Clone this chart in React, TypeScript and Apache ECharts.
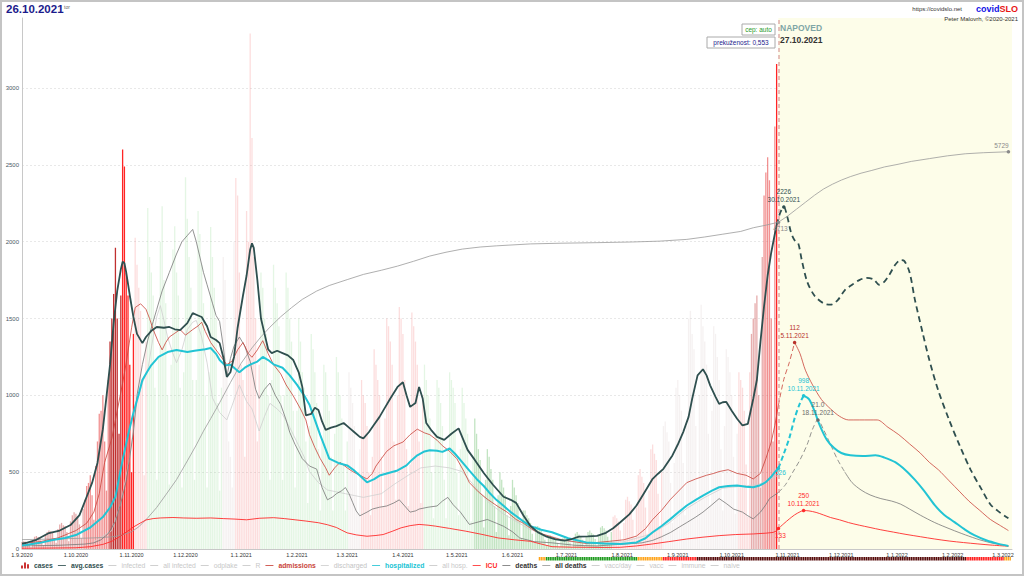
import React, { useEffect, useRef } from "react";
import * as echarts from "echarts";

const FONT = '"Liberation Sans", Arial, sans-serif';
const DAY_MS = 86400000;
const START_UTC = Date.UTC(2020, 8, 1);
const DAY_COUNT = 552;
const dates: string[] = Array.from({ length: DAY_COUNT }, (_, i) => {
  const d = new Date(START_UTC + i * DAY_MS);
  return `${d.getUTCDate()}.${d.getUTCMonth() + 1}.${d.getUTCFullYear()}`;
});
const FORECAST_START = "27.10.2021";
const FORECAST_IDX = dates.indexOf(FORECAST_START);

// axis extents (main axis in cases; others share the same pixel scale with factors)
const Y_MAX = 3456;
const ADM_MAX = 288; // admissions / discharged (x12)
const DEATHS_MAX = 86.4; // deaths (x40)
const ALLD_MAX = 7658; // all deaths

// daily confirmed cases, 1.9.2020 .. 26.10.2021 (weeks Tue..Mon)
const cases = [
  45, 50, 48, 42, 30, 12, 55,
  80, 85, 78, 70, 50, 25, 95,
  110, 120, 115, 105, 70, 40, 130,
  160, 170, 155, 150, 110, 50, 180,
  220, 240, 230, 215, 160, 70, 260,
  320, 410, 430, 480, 350, 190, 540,
  700, 880, 900, 1000, 700, 380, 1100,
  1350, 1500, 1660, 1960, 1500, 750, 1650,
  2600, 2490, 1800, 1650, 1200, 500, 1400,
  2025, 1850, 1700, 1550, 1100, 480, 1350,
  2220, 1900, 1800, 1650, 1050, 450, 1250,
  2000, 2230, 1750, 1600, 1000, 420, 1200,
  1950, 2100, 1800, 1650, 1050, 400, 1150,
  2420, 2150, 1900, 1700, 1100, 450, 1100,
  2200, 2050, 1850, 1600, 1000, 400, 1150,
  2095, 1900, 1700, 1500, 950, 380, 1050,
  1900, 1750, 1200, 700, 600, 400, 2000,
  2415, 2300, 1800, 1200, 1100, 600, 2200,
  2000, 3355, 2675, 1900, 1500, 700, 1200,
  1800, 1700, 1500, 1400, 1000, 450, 1100,
  1850, 1700, 1600, 1450, 1000, 450, 1000,
  1800, 1700, 1500, 1350, 900, 400, 900,
  1500, 1350, 1150, 1050, 700, 300, 800,
  1400, 1300, 1150, 950, 650, 250, 700,
  1200, 1150, 1000, 900, 600, 250, 750,
  1250, 1150, 1000, 850, 550, 250, 700,
  1150, 1050, 950, 800, 500, 230, 650,
  1100, 1000, 950, 800, 500, 220, 600,
  1300, 1200, 1100, 1000, 600, 280, 850,
  1500, 1450, 1350, 1200, 700, 320, 1000,
  1575, 1500, 1400, 1100, 650, 280, 550,
  1540, 1450, 1350, 1200, 700, 300, 1000,
  1200, 1100, 1000, 850, 500, 200, 750,
  1100, 1050, 950, 800, 450, 200, 650,
  1150, 1100, 1050, 950, 500, 220, 650,
  1050, 950, 850, 750, 450, 180, 600,
  850, 750, 650, 580, 350, 140, 450,
  650, 600, 520, 450, 280, 110, 350,
  500, 450, 400, 350, 220, 90, 280,
  450, 400, 350, 300, 180, 70, 250,
  250, 220, 200, 170, 100, 40, 150,
  150, 140, 120, 100, 60, 25, 80,
  90, 75, 70, 60, 40, 15, 55,
  70, 75, 65, 60, 40, 15, 60,
  100, 110, 95, 85, 60, 20, 80,
  110, 120, 105, 95, 65, 25, 90,
  140, 150, 135, 120, 80, 30, 110,
  210, 220, 200, 180, 120, 45, 170,
  320, 340, 310, 290, 190, 70, 270,
  480, 520, 470, 430, 270, 100, 380,
  650, 680, 620, 580, 360, 140, 500,
  800, 830, 760, 700, 430, 170, 560,
  1050, 1100, 1000, 900, 560, 220, 800,
  1500, 1550, 1400, 1300, 800, 300, 1000,
  1590, 1450, 1350, 1200, 750, 280, 900,
  1450, 1400, 1250, 1100, 650, 250, 800,
  1300, 1250, 1150, 1000, 600, 230, 750,
  1150, 1100, 1050, 900, 550, 210, 1150,
  1400, 1500, 1600, 1650, 1000, 400, 1900,
  2300, 2450, 2550, 2400, 1500, 700, 2750,
  3156,
];

// weekly trend tone of the case bars (-2 falling .. 5 sharply rising)
const caseTone = [
  2, 2, 2, 2, 2, 3, 3, 4, 5, 1,
  -1, -1, -1, -1, -1, -1, 0, 1, 1,
  -1, -1, -1, -1, -1, -1, -1, 0,
  1, 1, 1, 1, 1, -1, -1, -1, -1,
  -2, -2, -2, -2, -2, -2, -2, -2, -2, -2, -2,
  1, 1, 1, 1, 0, 0, 0, 0, 0, 0, 1, 2, 3, 5,
];

// [day index, value]
const avgCasesHist = [[0,35],[2,39],[8,60],[15,104],[21,120],[27,156],[32,220],[36,340],[39,430],[42,560],[45,780],[47,990],[49,1200],[51,1470],[53,1680],[55,1820],[56,1870],[57,1860],[58,1800],[60,1650],[62,1510],[64,1400],[67,1340],[69,1380],[72,1420],[75,1445],[79,1440],[82,1445],[85,1430],[88,1425],[92,1470],[95,1535],[98,1520],[100,1510],[103,1450],[105,1380],[108,1360],[110,1340],[112,1250],[114,1120],[116,1150],[118,1250],[120,1440],[123,1650],[125,1780],[127,1950],[128,1990],[129,1960],[131,1750],[133,1500],[135,1400],[137,1300],[139,1275],[142,1290],[145,1275],[148,1260],[151,1230],[154,1150],[156,1055],[158,870],[161,880],[163,920],[165,905],[167,830],[169,775],[172,790],[175,800],[179,820],[182,790],[185,760],[188,730],[190,720],[193,760],[196,810],[199,860],[202,920],[205,980],[209,1055],[212,1085],[214,1000],[216,925],[219,950],[221,1055],[223,980],[225,820],[228,770],[231,730],[235,710],[239,750],[243,785],[246,700],[248,645],[252,580],[257,495],[262,420],[268,340],[272,320],[275,300],[279,220],[283,150],[287,110],[292,80],[297,62],[302,55],[306,65],[310,80],[315,82],[320,85],[325,105],[329,135],[333,174],[338,225],[342,283],[346,360],[351,457],[354,490],[357,522],[362,609],[365,680],[368,761],[371,860],[373,978],[376,1130],[379,1170],[381,1130],[383,1065],[386,990],[388,945],[390,955],[392,957],[395,900],[398,848],[401,804],[404,815],[407,978],[409,1100],[411,1350],[413,1580],[415,1780],[417,1930],[419,2050],[420,2108]];
const avgCasesFcst = [[420,2108],[421,2150],[422,2190],[424,2226],[426,2160],[428,2060],[430,2010],[432,1990],[434,1880],[437,1740],[441,1650],[446,1600],[450,1590],[454,1620],[458,1685],[462,1720],[466,1750],[470,1765],[474,1755],[477,1720],[480,1740],[483,1790],[486,1850],[489,1880],[491,1875],[494,1800],[497,1620],[501,1420],[505,1230],[510,1030],[516,840],[522,670],[528,515],[534,390],[539,290],[544,240],[549,200]];

const hospHist = [[0,25],[2,26],[10,40],[17,58],[24,72],[30,91],[38,140],[45,208],[49,270],[52,340],[56,580],[59,740],[62,885],[65,1010],[67,1100],[70,1160],[72,1197],[76,1250],[81,1282],[86,1295],[92,1282],[96,1290],[99,1295],[102,1300],[105,1308],[108,1270],[110,1230],[113,1195],[116,1200],[119,1170],[121,1150],[124,1180],[127,1200],[131,1220],[134,1250],[137,1230],[140,1202],[145,1180],[149,1130],[153,1070],[157,1000],[160,939],[163,840],[166,741],[169,650],[171,588],[176,560],[181,544],[185,510],[188,478],[192,434],[196,455],[199,478],[204,495],[209,511],[214,544],[217,580],[220,610],[224,635],[227,643],[231,640],[234,632],[238,654],[241,620],[245,566],[249,510],[253,456],[257,410],[260,368],[264,320],[268,281],[272,240],[275,215],[279,180],[283,149],[289,125],[295,109],[304,70],[314,43],[324,35],[333,33],[342,43],[347,70],[351,109],[356,150],[361,196],[366,245],[370,283],[375,320],[379,348],[384,380],[388,402],[393,410],[398,413],[403,405],[407,402],[411,415],[414,435],[417,470],[419,500],[421,526]];
const hospFcstRise = [[421,526],[424,620],[427,720],[430,850],[433,950],[435,998]];
const hospFcstFall = [[435,998],[438,975],[441,900],[444,805],[448,710],[452,657],[456,625],[461,610],[468,605],[475,610],[480,595],[486,565],[492,510],[497,450],[502,380],[508,285],[513,225],[519,175],[525,125],[530,90],[537,55],[543,35],[549,20]];

const admHist = [[0,3],[10,4],[20,6],[30,10],[36,14],[40,20],[43,30],[46,47],[50,60],[53,75],[56,90],[58,101],[61,120],[63,131],[66,133],[69,130],[71,125],[73,119],[76,112],[78,108],[80,112],[82,115],[85,117],[88,119],[91,116],[95,119],[98,121],[100,123],[102,118],[105,112],[108,108],[111,104],[114,100],[117,102],[120,108],[123,112],[126,106],[128,104],[131,108],[134,113],[137,106],[140,100],[144,95],[147,89],[151,83],[155,76],[158,70],[160,62],[163,55],[166,49],[169,44],[171,40],[174,44],[177,47],[181,44],[184,42],[188,40],[192,38],[195,41],[197,45],[200,49],[203,53],[207,56],[212,58],[216,62],[220,65],[224,63],[227,62],[231,59],[234,56],[238,53],[242,49],[246,42],[249,36],[254,31],[259,27],[265,23],[270,20],[275,16],[279,14],[285,10],[290,8],[300,5],[314,3],[325,4],[335,5],[342,7],[347,11],[351,16],[356,21],[361,27],[366,32],[370,36],[375,38],[381,40],[385,41],[388,42],[393,43],[398,41],[403,40],[407,38],[411,41],[414,49],[417,58],[419,67],[421,78]];
const admFcstRise = [[421,78],[424,92],[427,101],[430,112]];
const admFcstFall = [[430,112],[433,106],[436,97],[440,89],[445,81],[450,76],[455,72],[460,70],[466,70],[472,70],[476,70],[482,66],[488,62],[494,57],[500,52],[505,47],[510,43],[516,37],[522,31],[527,26],[533,21],[539,16],[544,13],[549,10]];

const dischHist = [[40,4],[50,10],[55,25],[60,50],[64,80],[67,90],[70,97],[73,115],[75,126],[77,132],[79,124],[81,115],[84,106],[86,101],[89,108],[92,119],[95,123],[97,124],[100,115],[103,101],[106,82],[110,74],[114,70],[117,78],[121,89],[125,80],[128,76],[132,64],[135,72],[138,79],[142,76],[145,73],[149,66],[153,58],[157,50],[160,42],[165,36],[170,32],[175,31],[180,30],[185,29],[190,28],[195,29],[200,30],[207,35],[215,40],[222,44],[230,45],[238,44],[245,42],[252,34],[260,25],[268,19],[275,15],[282,11],[290,8],[305,4],[320,3],[335,4],[350,8],[360,14],[370,22],[380,28],[390,33],[400,34],[410,35],[421,40]];

const icuHist = [[0,5],[15,6],[30,8],[38,15],[45,30],[50,50],[54,78],[58,110],[62,143],[66,170],[69,189],[73,198],[77,202],[84,205],[90,202],[97,200],[105,202],[112,198],[118,195],[125,190],[132,200],[140,204],[146,198],[152,190],[158,182],[165,171],[170,158],[175,140],[178,122],[181,105],[186,92],[192,83],[197,88],[201,94],[206,115],[211,138],[216,152],[221,160],[226,155],[230,149],[238,134],[247,116],[256,95],[265,72],[274,60],[283,50],[289,32],[295,15],[305,12],[314,11],[324,10],[333,11],[342,20],[351,33],[360,48],[370,65],[379,77],[388,87],[397,94],[407,98],[414,103],[418,108],[420,118],[421,133]];
const icuFcst = [[421,133],[424,165],[427,195],[430,222],[433,242],[435,250],[438,248],[442,238],[446,222],[450,205],[455,190],[460,172],[466,155],[472,140],[478,125],[485,110],[492,95],[500,80],[508,65],[516,52],[524,42],[532,33],[540,25],[549,18]];

const deathsHist = [[0,0.5],[20,0.6],[35,0.8],[40,1],[44,1.5],[48,2.5],[52,4.5],[55,7.5],[58,11],[60,15],[62,19],[64,25],[67,30],[70,34],[73,37],[75,39],[78,42],[82,45],[86,48],[89,50],[92,51],[95,52],[97,50],[99,47.5],[101,45],[103,43],[106,40],[108,38],[110,37],[112,33],[114,28],[116,31],[118,33],[121,34.5],[124,33],[127,30.5],[130,26],[132,24.5],[135,26],[138,27],[141,25],[144,23.5],[147,21],[149,19],[152,17],[156,14.7],[160,13.5],[164,13],[167,10],[170,8],[173,8.5],[175,9],[178,9.5],[180,10],[182,9],[184,7.6],[186,6.2],[188,5.4],[192,6],[195,6.5],[199,6.8],[203,7],[207,7.5],[210,8],[213,7],[216,6],[219,6.2],[221,6.5],[226,6.8],[231,7],[234,7.8],[237,8.4],[240,7.2],[244,6],[247,4.8],[249,4],[254,4.4],[259,4.8],[264,4.2],[268,3.7],[273,2.8],[277,1.8],[285,1.2],[295,1],[308,0.6],[320,0.5],[335,0.8],[345,1],[351,1.4],[356,2],[361,2.7],[366,3.6],[370,4.3],[375,5.2],[379,6],[384,7.2],[388,8.2],[392,7.4],[396,6.5],[401,6],[404,5.4],[407,4.9],[411,6],[414,7.2],[416,8.2],[419,8.8],[421,9.2]];
const deathsFcstNear = [[421,9.2],[425,10.5],[429,12.5],[433,14.5],[437,17],[440,19.5],[443,21],[446,19.5],[450,17],[454,14.5],[458,12.5]];
const deathsFcstFar = [[458,12.5],[462,10.8],[467,9.6],[472,8.8],[478,8.2],[484,7.8],[489,7.3],[494,6.5],[500,5.5],[508,4.3],[517,3.2],[525,2.3],[533,1.5],[541,0.9],[549,0.5]];

const allDeathsHist = [[0,135],[20,145],[40,160],[50,175],[55,195],[61,250],[65,320],[70,450],[75,600],[80,780],[86,1000],[92,1270],[97,1500],[101,1700],[105,1880],[110,2110],[116,2400],[122,2680],[128,2900],[133,3060],[138,3200],[144,3350],[150,3480],[156,3600],[164,3720],[171,3800],[181,3885],[190,3960],[200,4020],[209,4080],[218,4150],[227,4225],[236,4280],[245,4325],[255,4355],[264,4372],[283,4400],[300,4410],[320,4418],[340,4428],[355,4440],[370,4465],[380,4500],[390,4540],[400,4580],[407,4633],[414,4670],[421,4713]];
const allDeathsFcst = [[421,4713],[426,4800],[431,4900],[436,5000],[441,5100],[446,5190],[451,5260],[456,5320],[461,5370],[467,5420],[473,5460],[480,5510],[487,5545],[495,5590],[505,5630],[515,5670],[525,5700],[535,5715],[549,5729]];

// epidemiological stage strip under the axis
const stageSpans: [string, string, string][] = [
  ["16.6.2021", "19.6.2021", "orange"],
  ["20.6.2021", "9.8.2021", "green"],
  ["10.8.2021", "23.8.2021", "orange"],
  ["24.8.2021", "11.9.2021", "red"],
  ["12.9.2021", "8.2.2022", "black"],
  ["9.2.2022", "1.3.2022", "red"],
  ["2.3.2022", "5.3.2022", "orange"],
];

const legendNames = ["cases", "avg.cases", "infected", "all infected", "odplake", "R", "admissions", "discharged", "hospitalized", "all hosp.", "ICU", "deaths", "all deaths", "vacc/day", "vacc", "immune", "naive"];
const inactiveNames = ["infected", "all infected", "odplake", "R", "all hosp.", "vacc/day", "vacc", "immune", "naive"];

// ---- styles ----
const TONE_COLORS: Record<string, string> = {
  "-2": "rgba(110,190,110,0.42)",
  "-1": "rgba(150,220,150,0.26)",
  "0": "rgba(225,215,215,0.35)",
  "1": "rgba(245,150,150,0.32)",
  "2": "rgba(205,90,90,0.5)",
  "3": "rgba(232,72,72,0.6)",
  "4": "rgba(185,25,25,0.9)",
  "5": "rgba(255,25,25,0.95)",
};
const STAGE_COLORS: Record<string, string> = { orange: "#ffa41b", green: "#1d9a1d", red: "#ff1f1f", black: "#560a0a" };
const C = {
  avg: "#2f4f4f",
  hosp: "#22c4d4",
  adm: "#c9433a",
  icu: "#ff2b2b",
  deaths: "#777777",
  allDeaths: "#9a9a9a",
  disch: "#cfcfcf",
};
const LEGEND_TEXT: Record<string, string> = {
  cases: "#2f4f4f",
  "avg.cases": "#2f4f4f",
  admissions: "#c9433a",
  discharged: "#c4c4c4",
  hospitalized: "#22c4d4",
  ICU: "#ff2b2b",
  deaths: "#333333",
  "all deaths": "#333333",
};
const LINE_ICON = "path://M0,0M0,4.3H10V5.7H0ZM10,10";
const BAR_ICON = "path://M0,10V5H2V10ZM3,10V0H5V10ZM6,10V3H8V10Z";

const pt = (p: number[]) => [p[0], p[1]];
const maxOf = (arr: number[][]) => arr.reduce((a, b) => (b[1] > a[1] ? b : a));

function mark(p: number[], text: string, color: string, position: any, offset: number[] = [0, 0]) {
  return {
    coord: [p[0], p[1]],
    symbol: "circle",
    symbolSize: 3.5,
    itemStyle: { color },
    label: {
      show: true,
      formatter: text,
      position,
      distance: 2,
      offset,
      color,
      fontSize: 6.5,
      lineHeight: 7.5,
      fontFamily: FONT,
    },
  };
}

function buildOption() {
  const barData = cases.map((v, i) => ({
    value: v,
    itemStyle: { color: TONE_COLORS[String(caseTone[Math.floor(i / 7)])] },
  }));

  const stageByDay: (string | null)[] = dates.map(() => null);
  stageSpans.forEach(([a, b, lvl]) => {
    const s = dates.indexOf(a);
    const e = dates.indexOf(b);
    for (let i = s; i <= e; i++) stageByDay[i] = lvl;
  });
  const stripData = stageByDay.map((lvl) => (lvl ? { value: 1, itemStyle: { color: STAGE_COLORS[lvl] } } : "-"));

  const avgPk = maxOf(avgCasesFcst);
  const hospPk = maxOf(hospFcstRise);
  const admPk = maxOf(admFcstRise);
  const icuPk = maxOf(icuFcst);
  const deathsPk = maxOf(deathsFcstNear);
  const hospNow = hospHist[hospHist.length - 1];
  const icuNow = icuHist[icuHist.length - 1];
  const adNow = allDeathsHist[allDeathsHist.length - 1];
  const adEnd = allDeathsFcst[allDeathsFcst.length - 1];

  const lineBase = (name: string, color: string, width: number, data: number[][], yAxisIndex = 0, dashed = false, extra: any = {}) => ({
    name,
    type: "line",
    yAxisIndex,
    data: data.map(pt),
    symbol: "none",
    color,
    itemStyle: { color },
    lineStyle: { color, width, type: dashed ? [5, 3] : "solid" },
    emphasis: { disabled: true },
    silent: true,
    ...extra,
  });

  const series: any[] = [
    {
      name: "forecast",
      type: "line",
      data: [],
      silent: true,
      markArea: {
        silent: true,
        itemStyle: { color: "#fdfde9" },
        data: [[{ xAxis: FORECAST_IDX }, { xAxis: DAY_COUNT - 1 }]],
      },
    },
    {
      name: "cases",
      type: "bar",
      data: barData,
      barWidth: "72%",
      itemStyle: { color: "#cc3333" },
      silent: true,
      markLine: {
        silent: true,
        symbol: ["none", "none"],
        label: { show: false },
        lineStyle: { color: "rgba(210,140,140,0.7)", type: [4, 3], width: 1.5 },
        data: [{ xAxis: FORECAST_IDX }],
      },
    },
    lineBase("discharged", C.disch, 0.8, dischHist, 1),
    lineBase("all deaths", C.allDeaths, 0.8, allDeathsHist, 3),
    lineBase("all deaths", C.allDeaths, 0.8, allDeathsFcst, 3, false, {
      markPoint: {
        silent: true,
        data: [
          mark(adNow, String(adNow[1]), "#8a8a8a", "bottom", [2, -1]),
          mark(adEnd, String(adEnd[1]), "#8a8a8a", "top", [-7, 1]),
        ],
      },
    }),
    lineBase("deaths", C.deaths, 0.8, deathsHist, 2),
    lineBase("deaths", C.deaths, 0.8, deathsFcstNear, 2, true, {
      smooth: 0.3,
      markPoint: {
        silent: true,
        data: [mark(deathsPk, `${deathsPk[1].toFixed(1)}\n${dates[deathsPk[0]]}`, "#6b6b6b", "top")],
      },
    }),
    lineBase("deaths", C.deaths, 0.8, deathsFcstFar, 2, false, { smooth: 0.3 }),
    lineBase("ICU", C.icu, 0.9, icuHist, 0),
    lineBase("ICU", C.icu, 0.9, icuFcst, 0, false, {
      smooth: 0.3,
      markPoint: {
        silent: true,
        data: [
          mark(icuNow, String(icuNow[1]), C.icu, "bottom", [2, -1]),
          mark(icuPk, `${icuPk[1]}\n${dates[icuPk[0]]}`, C.icu, "top"),
        ],
      },
    }),
    lineBase("admissions", C.adm, 0.8, admHist, 1),
    lineBase("admissions", C.adm, 0.8, admFcstRise, 1, true, {
      smooth: 0.3,
      markPoint: {
        silent: true,
        data: [mark(admPk, `${admPk[1]}\n${dates[admPk[0]]}`, "#b8322a", "top")],
      },
    }),
    lineBase("admissions", C.adm, 0.8, admFcstFall, 1, false, { smooth: 0.3 }),
    lineBase("hospitalized", C.hosp, 2, hospHist, 0),
    lineBase("hospitalized", C.hosp, 2, hospFcstRise, 0, true, {
      smooth: 0.3,
      markPoint: {
        silent: true,
        data: [
          mark(hospNow, String(hospNow[1]), C.hosp, "bottom", [2, -3]),
          mark(hospPk, `${hospPk[1]}\n${dates[hospPk[0]]}`, C.hosp, "top"),
        ],
      },
    }),
    lineBase("hospitalized", C.hosp, 2, hospFcstFall, 0, false, { smooth: 0.3 }),
    lineBase("avg.cases", C.avg, 1.8, avgCasesHist, 0),
    lineBase("avg.cases", C.avg, 1.8, avgCasesFcst, 0, true, {
      smooth: 0.3,
      lineStyle: { color: C.avg, width: 1.8, type: [6, 4] },
      markPoint: {
        silent: true,
        data: [mark(avgPk, `${avgPk[1]}\n${dates[avgPk[0]]}`, C.avg, "top")],
      },
    }),
    ...inactiveNames.map((n) => ({ name: n, type: "line", data: [], color: "#cccccc", itemStyle: { color: "#cccccc" } })),
    {
      name: "stage",
      type: "bar",
      xAxisIndex: 1,
      yAxisIndex: 4,
      data: stripData,
      barWidth: "80%",
      silent: true,
    },
  ];

  const selected: Record<string, boolean> = {};
  inactiveNames.forEach((n) => (selected[n] = false));

  const legendData = legendNames.map((n) => ({
    name: n,
    icon: n === "cases" ? BAR_ICON : LINE_ICON,
    textStyle: LEGEND_TEXT[n]
      ? { color: LEGEND_TEXT[n], fontWeight: n === "discharged" ? "normal" : "bold" }
      : { color: "#c8c8c8" },
  }));

  const gfx: any[] = [
    {
      type: "rect",
      shape: { x: 1, y: 1, width: 1022, height: 574 },
      style: { fill: "none", stroke: "#c4c4c4", lineWidth: 2 },
      silent: true,
      z: 100,
    },
    {
      type: "text",
      x: 6,
      y: 3,
      style: { text: "26.10.2021", fill: "#1b1b8c", fontSize: 11.5, fontWeight: "bold", fontFamily: FONT, textAlign: "left", textVerticalAlign: "top" },
      silent: true,
    },
    {
      type: "text",
      x: 64,
      y: 4,
      style: { text: "tor", fill: "#666", fontSize: 5, fontFamily: FONT, textAlign: "left", textVerticalAlign: "top" },
      silent: true,
    },
    {
      type: "text",
      x: 962,
      y: 6,
      style: { text: "https://covidslo.net", fill: "#333", fontSize: 6, fontFamily: FONT, textAlign: "right", textVerticalAlign: "top" },
      silent: true,
    },
    {
      type: "text",
      x: 1018,
      y: 4,
      style: {
        text: "{a|covid}{b|SLO}",
        textAlign: "right",
        textVerticalAlign: "top",
        rich: {
          a: { fill: "#1212e6", fontSize: 9, fontWeight: "bold", fontFamily: FONT },
          b: { fill: "#e81414", fontSize: 9, fontWeight: "bold", fontFamily: FONT },
        },
      },
      silent: true,
    },
    {
      type: "text",
      x: 1018,
      y: 16,
      style: { text: "Peter Malovrh, ©2020-2021", fill: "#333", fontSize: 6, fontFamily: FONT, textAlign: "right", textVerticalAlign: "top" },
      silent: true,
      z: 60,
    },
    {
      type: "rect",
      shape: { x: 742, y: 24, width: 33, height: 11 },
      style: { fill: "#fff", stroke: "#aaa", lineWidth: 1 },
      silent: true,
      z: 50,
    },
    {
      type: "text",
      x: 758.5,
      y: 29.5,
      style: { text: "cep: auto", fill: "#2a9a2a", fontSize: 6.5, fontFamily: FONT, textAlign: "center", textVerticalAlign: "middle" },
      silent: true,
      z: 51,
    },
    {
      type: "rect",
      shape: { x: 707, y: 37, width: 68, height: 11 },
      style: { fill: "#fff", stroke: "#aaa", lineWidth: 1 },
      silent: true,
      z: 50,
    },
    {
      type: "text",
      x: 741,
      y: 42.5,
      style: { text: "prekuženost: 0,553", fill: "#1b1b8c", fontSize: 6.5, fontFamily: FONT, textAlign: "center", textVerticalAlign: "middle" },
      silent: true,
      z: 51,
    },
    {
      type: "text",
      x: 780,
      y: 23,
      style: { text: "NAPOVED", fill: "#7fa6a6", fontSize: 8.5, fontWeight: "bold", fontFamily: FONT, textAlign: "left", textVerticalAlign: "top" },
      silent: true,
      z: 51,
    },
    {
      type: "text",
      x: 780,
      y: 35,
      style: { text: FORECAST_START, fill: "#333", fontSize: 8.5, fontWeight: "bold", fontFamily: FONT, textAlign: "left", textVerticalAlign: "top" },
      silent: true,
      z: 51,
    },
  ];

  return {
    animation: false,
    backgroundColor: "#ffffff",
    textStyle: { fontFamily: FONT },
    grid: [
      { left: 22, right: 12, top: 18, bottom: 27 },
      { left: 22, right: 12, top: 557, height: 3.5 },
    ],
    xAxis: [
      {
        type: "category",
        data: dates,
        boundaryGap: false,
        axisLine: { lineStyle: { color: "#c8c8c8" } },
        axisTick: { show: false },
        axisLabel: {
          interval: (_: number, v: string) => v.startsWith("1."),
          fontSize: 5.5,
          color: "#333",
          margin: 3,
          fontFamily: FONT,
        },
        splitLine: { show: false },
      },
      { type: "category", data: dates, boundaryGap: false, gridIndex: 1, show: false },
    ],
    yAxis: [
      {
        type: "value",
        min: 0,
        max: Y_MAX,
        interval: 500,
        axisLine: { show: true, lineStyle: { color: "#c8c8c8" } },
        axisTick: { show: false },
        axisLabel: {
          fontSize: 6,
          color: "#4a5a66",
          margin: 3,
          fontFamily: FONT,
          formatter: (v: number) => (v <= 3000 ? String(v) : ""),
        },
        splitLine: { show: true, showMinLine: false, showMaxLine: false, lineStyle: { color: "#e2e2e2", type: [2, 2], width: 0.8 } },
      },
      { type: "value", min: 0, max: ADM_MAX, show: false, splitLine: { show: false } },
      { type: "value", min: 0, max: DEATHS_MAX, show: false, splitLine: { show: false } },
      { type: "value", min: 0, max: ALLD_MAX, show: false, splitLine: { show: false } },
      { type: "value", gridIndex: 1, min: 0, max: 1, show: false, splitLine: { show: false } },
    ],
    legend: {
      left: 21,
      top: 562,
      padding: 0,
      itemGap: 5,
      itemWidth: 8,
      itemHeight: 6,
      symbolKeepAspect: false,
      inactiveColor: "#c8c8c8",
      itemStyle: { borderWidth: 0 },
      textStyle: { fontSize: 6.8, fontFamily: FONT },
      selectedMode: false,
      selected,
      data: legendData,
    },
    graphic: gfx,
    series,
  };
}

export default function App() {
  const ref = useRef<HTMLDivElement>(null);
  useEffect(() => {
    if (!ref.current) return;
    const chart = echarts.init(ref.current, null, { renderer: "svg" });
    chart.setOption(buildOption() as any);
    return () => chart.dispose();
  }, []);
  return (
    <div
      ref={ref}
      style={{ position: "fixed", left: 0, top: 0, width: 1024, height: 576, background: "#fff" }}
    />
  );
}
